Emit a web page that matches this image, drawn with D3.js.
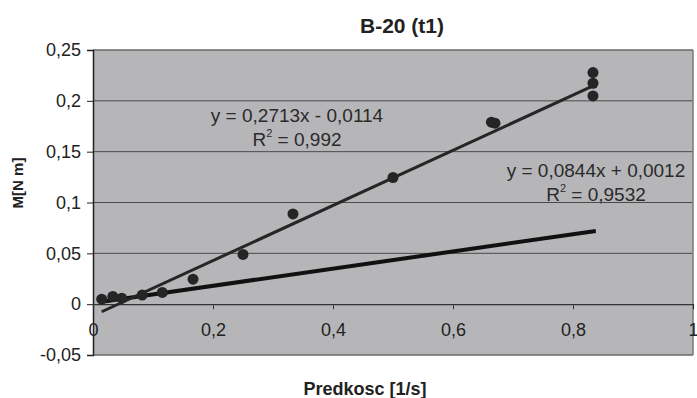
<!DOCTYPE html>
<html><head><meta charset="utf-8">
<script src="https://cdn.jsdelivr.net/npm/d3@7"></script>
<style>body{margin:0;background:#fff}svg{display:block}</style>
</head><body>
<svg id="c" width="697" height="398"></svg>
<script>
const xValues = [0.0145, 0.033, 0.048, 0.082, 0.1155, 0.1667, 0.25, 0.3333, 0.5, 0.664, 0.670, 0.8333, 0.8333, 0.8333];
const yValues = [0.0049, 0.0076, 0.0059, 0.0089, 0.0115, 0.0246, 0.0489, 0.0888, 0.1246, 0.1790, 0.1780, 0.2278, 0.2173, 0.2048];
const trend1 = {slope: 0.2713, intercept: -0.0114, x0: 0.0145, x1: 0.8333, label: "y = 0,2713x - 0,0114", r2: "0,992"};
const trend2 = {slope: 0.0844, intercept: 0.0012, x0: 0.012, x1: 0.838, label: "y = 0,0844x + 0,0012", r2: "0,9532"};
const xTicks = [0, 0.2, 0.4, 0.6, 0.8, 1];
const yTicks = [-0.05, 0, 0.05, 0.1, 0.15, 0.2, 0.25];
const fmt = v => String(+v.toFixed(2)).replace(".", ",");

const svg = d3.select("#c");
const L = 93, R = 693, T = 50, B = 355;
const x = d3.scaleLinear().domain([0, 1]).range([L, R]);
const y = d3.scaleLinear().domain([-0.05, 0.25]).range([B, T]);

svg.append("rect").attr("x", L).attr("y", T).attr("width", R - L).attr("height", B - T).attr("fill", "#b6b6b9");

svg.append("g").selectAll("line").data(yTicks.filter(v => v > 0 && v < 0.25)).join("line")
  .attr("x1", L).attr("x2", R).attr("y1", d => y(d)).attr("y2", d => y(d))
  .attr("stroke", "#4a4a4a").attr("stroke-width", 1);

svg.append("line").attr("x1", L).attr("x2", R).attr("y1", T).attr("y2", T).attr("stroke", "#6a6a6a").attr("stroke-width", 1.5);
svg.append("line").attr("x1", R).attr("x2", R).attr("y1", T).attr("y2", B).attr("stroke", "#7a7a7a").attr("stroke-width", 1.5);
svg.append("line").attr("x1", L).attr("x2", R).attr("y1", B).attr("y2", B).attr("stroke", "#6a6a6a").attr("stroke-width", 1.5);

const yAxis = d3.axisLeft(y).tickValues(yTicks).tickFormat(fmt).tickSize(6).tickPadding(6);
const gy = svg.append("g").attr("transform", `translate(${L},0)`).call(yAxis);
gy.select(".domain").attr("stroke", "#222").attr("stroke-width", 1.5);
gy.selectAll(".tick line").attr("stroke", "#222");
gy.selectAll("text").attr("font-family", "Liberation Sans, Arial, sans-serif").attr("font-size", 18).attr("fill", "#222");

const xAxis = d3.axisBottom(x).tickValues(xTicks).tickFormat(fmt).tickSize(5).tickPadding(14);
const gx = svg.append("g").attr("transform", `translate(0,${y(0)})`).call(xAxis);
gx.select(".domain").attr("stroke", "#333").attr("stroke-width", 1.2);
gx.selectAll(".tick line").attr("stroke", "#333");
gx.selectAll("text").attr("font-family", "Liberation Sans, Arial, sans-serif").attr("font-size", 18).attr("fill", "#222");

const line = d3.line().x(d => x(d[0])).y(d => y(d[1]));
[[trend2, 4, "#111"], [trend1, 3, "#262626"]].forEach(([t, w, c]) => {
  const pts = [[t.x0, t.slope * t.x0 + t.intercept], [t.x1, t.slope * t.x1 + t.intercept]];
  svg.append("path").attr("d", line(pts)).attr("stroke", c).attr("stroke-width", w).attr("fill", "none");
});

svg.append("g").selectAll("circle").data(xValues.map((v, i) => [v, yValues[i]])).join("circle")
  .attr("cx", d => x(d[0])).attr("cy", d => y(d[1])).attr("r", 5.5).attr("fill", "#252525");

function eq(t, cx, by) {
  const g = svg.append("g").attr("font-family", "Liberation Sans, Arial, sans-serif").attr("fill", "#2a2a2a");
  g.append("text").attr("x", cx).attr("y", by).attr("text-anchor", "middle").attr("font-size", 19).text(t.label);
  const tx = g.append("text").attr("x", cx).attr("y", by + 24).attr("text-anchor", "middle").attr("font-size", 19);
  tx.append("tspan").text("R");
  tx.append("tspan").attr("font-size", 11).attr("dy", -9).text("2");
  tx.append("tspan").attr("dy", 9).text(" = " + t.r2);
}
eq(trend1, 297, 122);
eq(trend2, 596, 177);

svg.append("text").attr("x", 402).attr("y", 33).attr("text-anchor", "middle")
  .attr("font-family", "Liberation Sans, Arial, sans-serif").attr("font-weight", "bold").attr("font-size", 21).attr("fill", "#222").text("B-20 (t1)");
svg.append("text").attr("x", 365).attr("y", 395).attr("text-anchor", "middle")
  .attr("font-family", "Liberation Sans, Arial, sans-serif").attr("font-weight", "bold").attr("font-size", 18).attr("fill", "#222").text("Predkosc [1/s]");
svg.append("text").attr("transform", "translate(23,183) rotate(-90)").attr("text-anchor", "middle")
  .attr("font-family", "Liberation Sans, Arial, sans-serif").attr("font-weight", "bold").attr("font-size", 15).attr("fill", "#222").text("M[N m]");
</script>
</body></html>
